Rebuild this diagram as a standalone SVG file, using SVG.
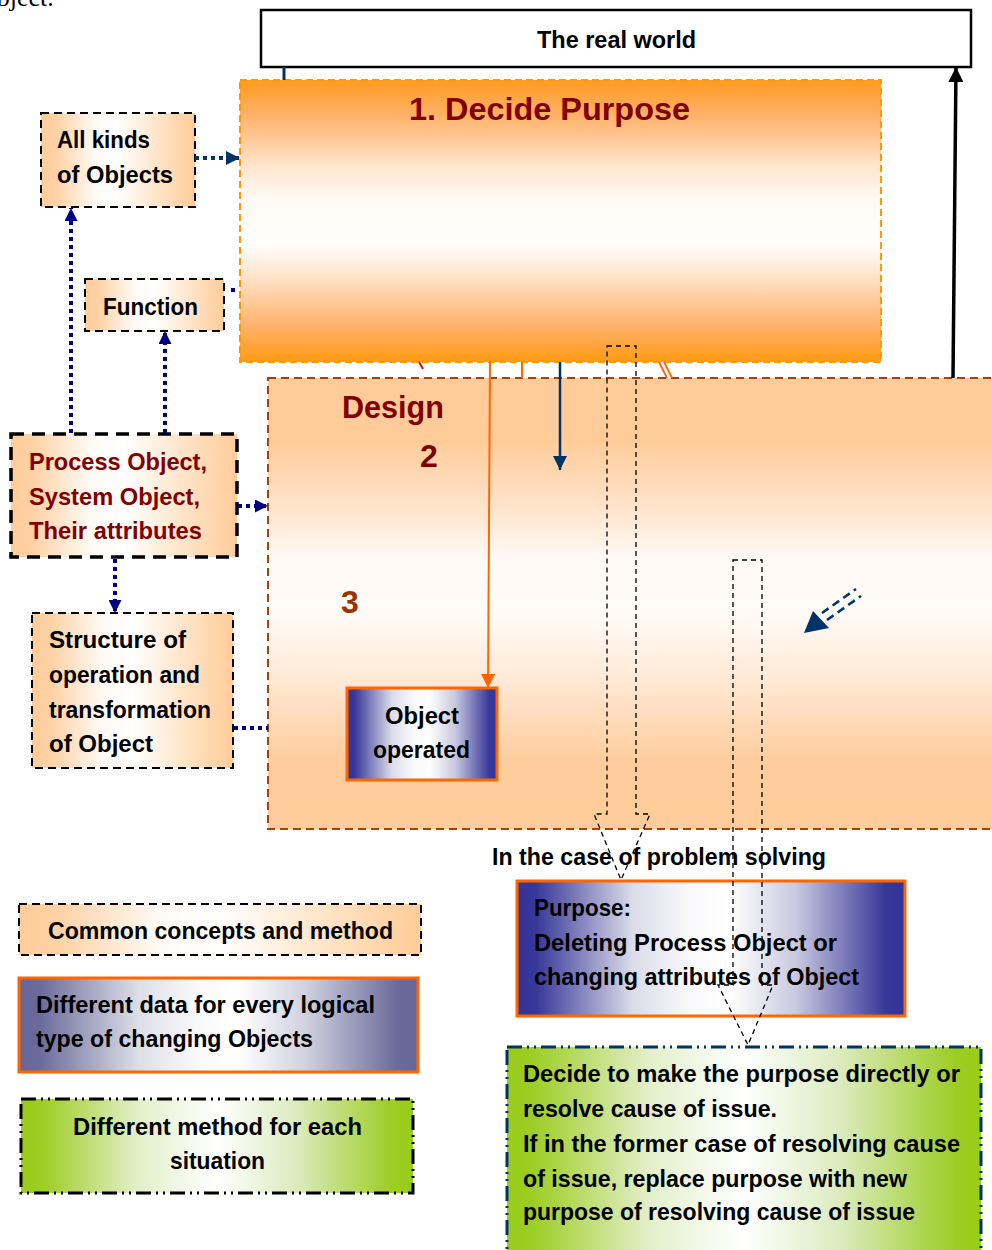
<svg xmlns="http://www.w3.org/2000/svg" width="992" height="1250" viewBox="0 0 992 1250">
  <defs>
    <style>
      .t { font-family: "Liberation Sans", Arial, sans-serif; font-weight: bold; font-size: 24px; fill: #000; }
      .red { fill: #800000; }
      .brown { fill: #993300; }
      .big { font-size: 32px; }
      .dash { stroke: #000; stroke-width: 2; stroke-dasharray: 8 5; }
      .dashThick { stroke: #000; stroke-width: 3.5; stroke-dasharray: 13 8; }
      .dashDot { stroke-width: 3; stroke-dasharray: 15 5 2 5 2 5; }
      .orangeEdge { stroke: #ff6600; stroke-width: 3; }
      .dots { fill: none; stroke: #000080; stroke-width: 4; stroke-dasharray: 4 4; }
      .block { fill: none; stroke: #000; stroke-width: 1.3; stroke-dasharray: 5 4; }
    </style>
    <linearGradient id="gDecide" x1="0" y1="0" x2="0" y2="1">
      <stop offset="0" stop-color="#ff9a1f"/>
      <stop offset="0.12" stop-color="#ffb066"/>
      <stop offset="0.3" stop-color="#ffe4cc"/>
      <stop offset="0.42" stop-color="#fffaf5"/>
      <stop offset="0.58" stop-color="#ffffff"/>
      <stop offset="0.7" stop-color="#ffe2c8"/>
      <stop offset="0.88" stop-color="#ffb067"/>
      <stop offset="1" stop-color="#ff9a10"/>
    </linearGradient>
    <linearGradient id="gDesign" x1="0" y1="0" x2="0" y2="1">
      <stop offset="0" stop-color="#ffcc99"/>
      <stop offset="0.14" stop-color="#ffcc99"/>
      <stop offset="0.3" stop-color="#ffe6cf"/>
      <stop offset="0.4" stop-color="#fffaf6"/>
      <stop offset="0.52" stop-color="#fffbf7"/>
      <stop offset="0.66" stop-color="#ffead8"/>
      <stop offset="0.85" stop-color="#ffcc9e"/>
      <stop offset="1" stop-color="#ffcc99"/>
    </linearGradient>
    <linearGradient id="gPeach" x1="0" y1="0" x2="1" y2="0">
      <stop offset="0" stop-color="#ffcc99"/>
      <stop offset="0.1" stop-color="#ffd2a6"/>
      <stop offset="0.35" stop-color="#fffaf5"/>
      <stop offset="0.5" stop-color="#ffffff"/>
      <stop offset="0.8" stop-color="#ffe0c0"/>
      <stop offset="1" stop-color="#ffcc99"/>
    </linearGradient>
    <linearGradient id="gBlue" x1="0" y1="0" x2="1" y2="0">
      <stop offset="0" stop-color="#333399"/>
      <stop offset="0.05" stop-color="#383899"/>
      <stop offset="0.3" stop-color="#dcdcea"/>
      <stop offset="0.45" stop-color="#fafafc"/>
      <stop offset="0.55" stop-color="#ffffff"/>
      <stop offset="0.72" stop-color="#c8c8df"/>
      <stop offset="0.95" stop-color="#383899"/>
      <stop offset="1" stop-color="#333399"/>
    </linearGradient>
    <linearGradient id="gSlate" x1="0" y1="0" x2="1" y2="0">
      <stop offset="0" stop-color="#666699"/>
      <stop offset="0.05" stop-color="#6a6a9b"/>
      <stop offset="0.3" stop-color="#dedee8"/>
      <stop offset="0.45" stop-color="#fafafc"/>
      <stop offset="0.55" stop-color="#ffffff"/>
      <stop offset="0.72" stop-color="#d0d0df"/>
      <stop offset="0.95" stop-color="#6a6a9b"/>
      <stop offset="1" stop-color="#666699"/>
    </linearGradient>
    <linearGradient id="gGreen" x1="0" y1="0" x2="1" y2="0">
      <stop offset="0" stop-color="#99cc1a"/>
      <stop offset="0.05" stop-color="#9ccd22"/>
      <stop offset="0.3" stop-color="#e3efca"/>
      <stop offset="0.5" stop-color="#ffffff"/>
      <stop offset="0.7" stop-color="#dcebc0"/>
      <stop offset="0.95" stop-color="#9ccd22"/>
      <stop offset="1" stop-color="#99cc1a"/>
    </linearGradient>
    <marker id="aNavy" viewBox="0 0 10 10" refX="10" refY="5" markerWidth="13" markerHeight="13" markerUnits="userSpaceOnUse" orient="auto">
      <path d="M0,0 L10,5 L0,10 Z" fill="#000080"/>
    </marker>
    <marker id="aDark" viewBox="0 0 10 10" refX="10" refY="5" markerWidth="14" markerHeight="14" markerUnits="userSpaceOnUse" orient="auto">
      <path d="M0,0 L10,5 L0,10 Z" fill="#003366"/>
    </marker>
    <marker id="aOrange" viewBox="0 0 10 10" refX="10" refY="5" markerWidth="14" markerHeight="14" markerUnits="userSpaceOnUse" orient="auto">
      <path d="M0,0 L10,5 L0,10 Z" fill="#ff6600"/>
    </marker>
    <marker id="aBlack" viewBox="0 0 10 10" refX="10" refY="5" markerWidth="15" markerHeight="15" markerUnits="userSpaceOnUse" orient="auto">
      <path d="M0,0 L10,5 L0,10 Z" fill="#000"/>
    </marker>
  </defs>

  <rect x="0" y="0" width="992" height="1250" fill="#fff"/>

  <!-- trailing word of the preceding paragraph, clipped by the page top -->
  <text x="-22" y="6" font-family="Liberation Serif, serif" font-size="26" fill="#000">Object.</text>

  <!-- main process blocks -->
  <g id="real-world">
    <rect x="261" y="10" width="710" height="57" fill="#fff" stroke="#000" stroke-width="2.5"/>
    <text class="t" x="537" y="48" textLength="159" lengthAdjust="spacingAndGlyphs">The real world</text>
  </g>

  <g id="design">
    <rect x="268" y="378" width="740" height="451" fill="url(#gDesign)" stroke="#a3420c" stroke-width="2" stroke-dasharray="8 5"/>
    <text class="t big red" x="342" y="418" textLength="102" lengthAdjust="spacingAndGlyphs">Design</text>
    <text class="t big red" x="420" y="467">2</text>
    <text class="t big brown" x="341" y="613">3</text>
  </g>

  <g id="decide-purpose">
    <rect x="240" y="80" width="641" height="282" fill="url(#gDecide)" stroke="#ff9900" stroke-width="2" stroke-dasharray="7 4"/>
    <text class="t big red" x="409" y="120" textLength="281" lengthAdjust="spacingAndGlyphs">1. Decide Purpose</text>
  </g>

  <g id="object-operated">
    <rect x="347" y="688" width="150" height="92" fill="url(#gBlue)" class="orangeEdge"/>
    <text class="t" x="385" y="724" textLength="74" lengthAdjust="spacingAndGlyphs">Object</text>
    <text class="t" x="373" y="758" textLength="97" lengthAdjust="spacingAndGlyphs">operated</text>
  </g>

  <!-- side concepts -->
  <g id="all-kinds">
    <rect x="41" y="113" width="154" height="94" fill="url(#gPeach)" class="dash"/>
    <text class="t" x="57" y="148" textLength="93" lengthAdjust="spacingAndGlyphs">All kinds</text>
    <text class="t" x="57" y="183" textLength="116" lengthAdjust="spacingAndGlyphs">of Objects</text>
  </g>

  <g id="function">
    <rect x="85" y="279" width="139" height="52" fill="url(#gPeach)" class="dash"/>
    <text class="t" x="103" y="315" textLength="95" lengthAdjust="spacingAndGlyphs">Function</text>
  </g>

  <g id="process-object">
    <rect x="11" y="434" width="226" height="123" fill="url(#gPeach)" class="dashThick"/>
    <text class="t red" x="29" y="470" textLength="178" lengthAdjust="spacingAndGlyphs">Process Object,</text>
    <text class="t red" x="29" y="505" textLength="171" lengthAdjust="spacingAndGlyphs">System Object,</text>
    <text class="t red" x="29" y="539" textLength="173" lengthAdjust="spacingAndGlyphs">Their attributes</text>
  </g>

  <g id="structure">
    <rect x="32" y="613" width="201" height="155" fill="url(#gPeach)" class="dash"/>
    <text class="t" x="49" y="648" textLength="137" lengthAdjust="spacingAndGlyphs">Structure of</text>
    <text class="t" x="49" y="683" textLength="151" lengthAdjust="spacingAndGlyphs">operation and</text>
    <text class="t" x="49" y="718" textLength="162" lengthAdjust="spacingAndGlyphs">transformation</text>
    <text class="t" x="49" y="752" textLength="104" lengthAdjust="spacingAndGlyphs">of Object</text>
  </g>

  <!-- legend -->
  <g id="legend-common">
    <rect x="19" y="904" width="402" height="51" fill="url(#gPeach)" class="dash"/>
    <text class="t" x="48" y="939" textLength="345" lengthAdjust="spacingAndGlyphs">Common concepts and method</text>
  </g>

  <g id="legend-data">
    <rect x="19" y="978" width="399" height="94" fill="url(#gSlate)" class="orangeEdge"/>
    <text class="t" x="36" y="1013" textLength="339" lengthAdjust="spacingAndGlyphs">Different data for every logical</text>
    <text class="t" x="36" y="1047" textLength="277" lengthAdjust="spacingAndGlyphs">type of changing Objects</text>
  </g>

  <g id="legend-method">
    <rect x="21" y="1099" width="392" height="94" fill="url(#gGreen)" stroke="#000" class="dashDot"/>
    <text class="t" x="73" y="1135" textLength="289" lengthAdjust="spacingAndGlyphs">Different method for each</text>
    <text class="t" x="170" y="1169" textLength="95" lengthAdjust="spacingAndGlyphs">situation</text>
  </g>

  <!-- problem solving branch -->
  <g id="problem-solving-label">
    <text class="t" x="492" y="865" textLength="334" lengthAdjust="spacingAndGlyphs">In the case of problem solving</text>
  </g>

  <g id="purpose">
    <rect x="517" y="881" width="388" height="135" fill="url(#gBlue)" class="orangeEdge"/>
    <text class="t" x="534" y="916" textLength="97" lengthAdjust="spacingAndGlyphs">Purpose:</text>
    <text class="t" x="534" y="951" textLength="303" lengthAdjust="spacingAndGlyphs">Deleting Process Object or</text>
    <text class="t" x="534" y="985" textLength="325" lengthAdjust="spacingAndGlyphs">changing attributes of Object</text>
  </g>

  <g id="decide-direct">
    <rect x="507" y="1047" width="474" height="215" fill="url(#gGreen)" stroke="#003366" class="dashDot"/>
    <text class="t" x="523" y="1082" textLength="437" lengthAdjust="spacingAndGlyphs">Decide to make the purpose directly or</text>
    <text class="t" x="523" y="1117" textLength="254" lengthAdjust="spacingAndGlyphs">resolve cause of issue.</text>
    <text class="t" x="523" y="1152" textLength="437" lengthAdjust="spacingAndGlyphs">If in the former case of resolving cause</text>
    <text class="t" x="523" y="1187" textLength="384" lengthAdjust="spacingAndGlyphs">of issue, replace purpose with new</text>
    <text class="t" x="523" y="1220" textLength="392" lengthAdjust="spacingAndGlyphs">purpose of resolving cause of issue</text>
  </g>

  <!-- connectors -->
  <g id="connectors">
    <line x1="195" y1="158" x2="240" y2="158" class="dots" style="stroke:#003366" marker-end="url(#aDark)"/>
    <line x1="71" y1="433" x2="71" y2="208" class="dots" marker-end="url(#aNavy)"/>
    <line x1="165" y1="433" x2="165" y2="331" class="dots" marker-end="url(#aNavy)"/>
    <line x1="238" y1="506" x2="268" y2="506" class="dots" marker-end="url(#aNavy)"/>
    <line x1="115" y1="559" x2="115" y2="613" class="dots" marker-end="url(#aNavy)"/>
    <line x1="234" y1="728" x2="268" y2="728" class="dots"/>
    <line x1="231" y1="290" x2="235" y2="290" stroke="#000080" stroke-width="4"/>

    <line x1="284" y1="67" x2="284" y2="80" stroke="#003366" stroke-width="3"/>
    <line x1="419" y1="362" x2="423" y2="369" stroke="#ff0000" stroke-width="2"/>
    <line x1="490" y1="362" x2="488" y2="688" stroke="#ff6600" stroke-width="2" marker-end="url(#aOrange)"/>
    <line x1="522" y1="362" x2="522" y2="378" stroke="#ff6600" stroke-width="2"/>
    <line x1="560" y1="362" x2="560" y2="470" stroke="#003366" stroke-width="2.5" marker-end="url(#aDark)"/>
    <line x1="659" y1="362" x2="667" y2="378" stroke="#ff6600" stroke-width="1.8"/>
    <line x1="664" y1="362" x2="672" y2="378" stroke="#ff6600" stroke-width="1.8"/>
    <line x1="953" y1="378" x2="956" y2="67" stroke="#000" stroke-width="3.5" marker-end="url(#aBlack)"/>

    <!-- double-shafted dashed pointer -->
    <path d="M804,633 L813,611 L829,628 Z" fill="#003366"/>
    <line x1="822" y1="613" x2="856" y2="589" stroke="#003366" stroke-width="2.5" stroke-dasharray="8 5"/>
    <line x1="827" y1="620" x2="861" y2="596" stroke="#003366" stroke-width="2.5" stroke-dasharray="8 5"/>

    <!-- hollow dashed block arrows -->
    <path class="block" d="M607,346 L636,346 L636,814 L650,814 L621,880 L594,814 L607,814 Z"/>
    <path class="block" d="M733,560 L762,560 L762,985 L773,985 L748,1045 L718,985 L733,985 Z"/>
  </g>
</svg>
